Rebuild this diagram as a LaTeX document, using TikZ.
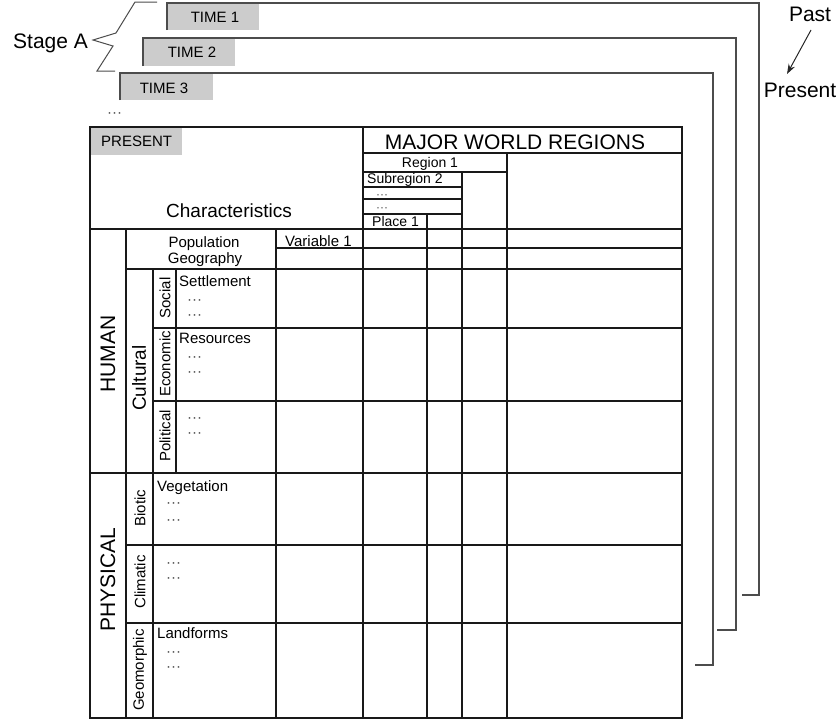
\documentclass[tikz,border=0pt]{standalone}
\usepackage{fontspec}
\setmainfont{Liberation Sans}
\usetikzlibrary{arrows.meta}
\begin{document}
\begin{tikzpicture}[x=1pt,y=-1pt,
  tline/.style={line width=1.1pt, black!90},
  fline/.style={line width=1.1pt, black!70},
  gbox/.style={fill=black!20, draw=none},
  lbl/.style={inner sep=0pt, font=\fontsize{15}{16}\selectfont},
  small/.style={inner sep=0pt, font=\fontsize{14}{16}\selectfont},
  big/.style={inner sep=0pt, font=\fontsize{21}{24}\selectfont},
  dots/.style={inner sep=0pt, font=\fontsize{15}{16}\selectfont, text=black!70},
  rot/.style={inner sep=0pt, rotate=90, font=\fontsize{15}{16}\selectfont},
  rotbig/.style={inner sep=0pt, rotate=90, font=\fontsize{21}{24}\selectfont},
  arr/.style={line width=1pt, black!85, -{Stealth[length=10pt,width=7pt]}}
]
\useasboundingbox (0,0) rectangle (840,721);

% ---------- stacked time frames ----------
\fill[gbox] (167,3) rectangle (259,30);
\draw[fline] (167,30) -- (167,3) -- (759,3) -- (759,595) -- (742,595);
\node[lbl, anchor=base] (t1) at (215,22) {TIME 1};

\fill[gbox] (143,38) rectangle (235,66);
\draw[fline] (143,66) -- (143,38) -- (736,38) -- (736,630) -- (717,630);
\node[lbl, anchor=base] (t2) at (192,57) {TIME 2};

\fill[gbox] (120,73) rectangle (213,100);
\draw[fline] (120,100) -- (120,73) -- (713,73) -- (713,665) -- (695,665);
\node[lbl, anchor=base] (t3) at (164,93) {TIME 3};

\node[dots, anchor=base west] (tdots) at (107,117) {···};

% Stage A brace
\node[big, anchor=base west] (stage) at (13,48) {Stage A};
\draw[fline, line width=1pt] (157,2) -- (135,2) -- (116,33) -- (93,40) -- (113,46) -- (97,71) -- (115,71);

% Past -> Present
\node[big, anchor=base] (past) at (810,21) {Past};
\node[big, anchor=base] (present) at (800,97) {Present};
\coordinate (pa) at (811,30);
\coordinate (pb) at (787,74);
\draw[arr] (pa) -- (pb);

% ---------- main table ----------
\fill[gbox] (90,127) rectangle (182,155);
\draw[tline] (90,127) rectangle (682,718);
% header
\draw[tline] (363,127) -- (363,718);
\draw[tline] (363,153) -- (682,153);
\draw[tline] (363,172) -- (507,172);
\draw[tline] (507,153) -- (507,718);
\draw[tline] (363,187) -- (462,187);
\draw[tline] (363,199) -- (462,199);
\draw[tline] (363,214) -- (462,214);
\draw[tline] (462,172) -- (462,718);
\draw[tline] (427,214) -- (427,718);
% body rows
\draw[tline] (90,229) -- (682,229);
\draw[tline] (276,248) -- (682,248);
\draw[tline] (126,269) -- (682,269);
\draw[tline] (153,328) -- (682,328);
\draw[tline] (153,401) -- (682,401);
\draw[tline] (90,473) -- (682,473);
\draw[tline] (126,545) -- (682,545);
\draw[tline] (126,623) -- (682,623);
% body columns
\draw[tline] (126,229) -- (126,718);
\draw[tline] (153,269) -- (153,718);
\draw[tline] (176,269) -- (176,473);
\draw[tline] (276,229) -- (276,718);

% header texts
\node[lbl, anchor=base west] (pres) at (101,146) {PRESENT};
\node[big, anchor=base] (mwr) at (515,149) {MAJOR WORLD REGIONS};
\node[small, anchor=base] (r1) at (430,167) {Region 1};
\node[small, anchor=base west] (sr2) at (367,183) {Subregion 2};
\node[dots, anchor=base west, font=\fontsize{12}{14}\selectfont] (hd1) at (376,198) {···};
\node[dots, anchor=base west, font=\fontsize{12}{14}\selectfont] (hd2) at (376,211) {···};
\node[small, anchor=base west] (pl1) at (372,226) {Place 1};
\node[inner sep=0pt, font=\fontsize{19}{22}\selectfont, anchor=base] (char) at (229,217) {Characteristics};

% body texts
\node[lbl, anchor=base] (pop) at (204,247) {Population};
\node[lbl, anchor=base] (geo) at (205,263) {Geography};
\node[lbl, anchor=base west] (var1) at (285,246) {Variable 1};

\node[lbl, anchor=base west] (sett) at (179,286) {Settlement};
\node[dots, anchor=base west] (sd1) at (187,304) {···};
\node[dots, anchor=base west] (sd2) at (187,319) {···};
\node[lbl, anchor=base west] (res) at (179,343) {Resources};
\node[dots, anchor=base west] (ed1) at (187,361) {···};
\node[dots, anchor=base west] (ed2) at (187,376) {···};
\node[dots, anchor=base west] (pd1) at (187,422) {···};
\node[dots, anchor=base west] (pd2) at (187,437) {···};

\node[lbl, anchor=base west] (veg) at (157,491) {Vegetation};
\node[dots, anchor=base west] (bd1) at (166,507) {···};
\node[dots, anchor=base west] (bd2) at (166,524) {···};
\node[dots, anchor=base west] (cd1) at (166,567) {···};
\node[dots, anchor=base west] (cd2) at (166,582) {···};
\node[lbl, anchor=base west] (land) at (157,638) {Landforms};
\node[dots, anchor=base west] (gd1) at (166,656) {···};
\node[dots, anchor=base west] (gd2) at (166,671) {···};

% rotated labels
\node[rotbig] (human) at (108,354) {HUMAN};
\node[rotbig] (phys) at (108,580) {PHYSICAL};
\node[inner sep=0pt, rotate=90, font=\fontsize{19}{22}\selectfont] (cult) at (139,378) {Cultural};
\node[rot] (soc) at (165,298) {Social};
\node[rot] (eco) at (165,364) {Economic};
\node[rot] (pol) at (165,436) {Political};
\node[rot] (bio) at (140,508) {Biotic};
\node[rot] (cli) at (140,582) {Climatic};
\node[rot] (geom) at (140,670) {Geomorphic};
\end{tikzpicture}
\end{document}
